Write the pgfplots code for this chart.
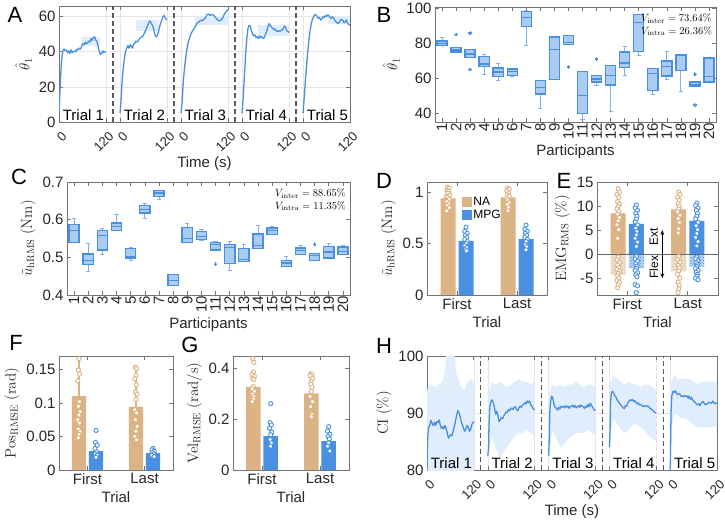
\RequirePackage{fix-cm}
\documentclass[border=0pt]{standalone}
\usepackage[no-math]{fontspec}
\setmainfont{Liberation Sans}
\usepackage{pgfplots}
\pgfplotsset{compat=1.18}
\usepgfplotslibrary{statistics}
\usetikzlibrary{patterns,arrows.meta}

\definecolor{mblue}{RGB}{74,144,226}
\definecolor{mtan}{RGB}{219,179,133}
\definecolor{bfill}{RGB}{170,204,242}
\definecolor{band}{RGB}{224,237,252}

\tikzset{tlabel/.style={anchor=south west, inner sep=0.5pt, font=\fontsize{15}{18}\selectfont, text=black}}

\pgfplotsset{
  panel/.style={
    scale only axis, anchor=south west,
    font=\fontsize{15}{18}\selectfont,
    axis line style={black!55, line width=0.6pt},
    tick style={black!55, line width=0.6pt},
    tick align=inside, major tick length=4pt,
    ticklabel style={text=black!85},
    label style={text=black!85},
  },
  trialaxis/.style={
    xmin=0, xmax=744,
    xtick={0,120,156,276,312,432,468,588,624,744},
    xticklabels={0,120,0,120,0,120,0,120,0,120},
    xticklabel style={xshift=5.5pt, yshift=-12pt, rotate=45, anchor=east, inner sep=0pt, font=\fontsize{13}{15}\selectfont},
    xmajorgrids, ymajorgrids, grid style={black!10, line width=0.5pt},
    xlabel={Time (s)},
  },
  curve/.style={mblue, line width=1.3pt, line join=round},
  sep/.style={black!65, dash pattern=on 5pt off 3pt, line width=1.2pt},
  dots/.style={only marks, mark=*, mark size=2.1pt, mark options={draw=#1, fill=white, line width=0.9pt}, forget plot},
  barst/.style={ybar, bar width=0.25, bar shift=0pt, fill=#1, draw=none, forget plot},
  negbar/.style={ybar, bar width=0.25, bar shift=0pt, draw=none, fill=#1!40, postaction={pattern=crosshatch dots, pattern color=#1}, forget plot},
  bx/.style={solid, draw=mblue, line width=1pt, mark=*, mark size=1.3pt,
    mark options={fill=mblue, draw=mblue, line width=0pt},
    boxplot/draw direction=y,
    boxplot/box extend=0.72, boxplot/whisker extend=0.3,
    boxplot/every box/.style={draw=mblue, fill=bfill, line width=1.4pt},
    boxplot/every whisker/.style={draw=mblue!70, line width=0.9pt},
    boxplot/every median/.style={draw=mblue, line width=1.2pt}},
}

\begin{document}
\begin{tikzpicture}
\path[use as bounding box] (0,0) rectangle (725pt,520pt);

% ---------------- A: parameter estimate over five trials
\begin{axis}[panel, trialaxis, at={(59pt,398pt)}, width=291pt, height=116pt,
  ymin=0, ymax=66, ytick={0,20,40,60}, yticklabels={0,20,40,60},
  ylabel={$\hat{\theta}_1$}]
\addplot[fill=band, draw=none] coordinates {(55,43.5) (105,43.5) (105,48.5) (55,48.5)} --cycle;
\addplot[fill=band, draw=none] coordinates {(196,52) (256,52) (256,58) (196,58)} --cycle;
\addplot[fill=band, draw=none] coordinates {(347,55) (432,55) (432,60.5) (347,60.5)} --cycle;
\addplot[fill=band, draw=none] coordinates {(508,49) (588,49) (588,55) (508,55)} --cycle;
\addplot[fill=band, draw=none] coordinates {(689,55.5) (744,55.5) (744,60.5) (689,60.5)} --cycle;
\addplot[curve] table[row sep=\\, x expr=\thisrow{t}+0, y=v] {t v\\ 0 5\\ 2 15\\ 4 25\\ 6 33\\ 8 38\\ 10 40.5\\ 13 41.5\\ 16 40.5\\ 19 41\\ 22 39.5\\ 25 40.5\\ 28 39\\ 31 41\\ 34 39.5\\ 37 40\\ 40 40.5\\ 43 40\\ 46 41.5\\ 49 41\\ 52 42\\ 55 41.5\\ 58 43\\ 61 44.5\\ 64 44\\ 67 45.5\\ 70 44.5\\ 73 45\\ 76 46\\ 79 45.5\\ 82 47.5\\ 85 46.5\\ 88 48\\ 91 48.5\\ 94 46.5\\ 97 46\\ 100 43\\ 103 40\\ 106 38.5\\ 109 39\\ 112 40.5\\ 115 39.5\\ 118 40\\ 120 40\\};
\addplot[curve] table[row sep=\\, x expr=\thisrow{t}+156, y=v] {t v\\ 0 5\\ 2 10\\ 5 22\\ 8 30\\ 11 36\\ 14 40\\ 17 42\\ 20 43.5\\ 23 42\\ 26 44\\ 29 43\\ 32 42\\ 35 44.5\\ 38 45\\ 41 46\\ 44 45.5\\ 47 46.5\\ 50 47.5\\ 53 48\\ 56 48.5\\ 59 49\\ 62 50.5\\ 65 52\\ 68 53.5\\ 71 55\\ 74 57\\ 77 57.5\\ 80 56\\ 83 55\\ 86 53\\ 89 50\\ 92 48.5\\ 95 49\\ 98 51\\ 101 54\\ 104 56.5\\ 107 58\\ 110 60\\ 113 60.5\\ 116 59\\ 120 58\\};
\addplot[curve] table[row sep=\\, x expr=\thisrow{t}+312, y=v] {t v\\ 0 5\\ 3 12\\ 6 24\\ 10 33\\ 14 40\\ 18 45\\ 22 48\\ 26 50.5\\ 30 52\\ 34 53.5\\ 38 55\\ 42 56.5\\ 46 57\\ 50 58\\ 54 57.5\\ 58 58.5\\ 62 59\\ 66 61\\ 70 61.5\\ 74 60.5\\ 78 61\\ 82 61\\ 86 60\\ 90 59\\ 94 58\\ 98 57.5\\ 102 58\\ 106 59\\ 110 61\\ 114 62.5\\ 118 63.5\\ 120 64\\};
\addplot[curve] table[row sep=\\, x expr=\thisrow{t}+468, y=v] {t v\\ 0 5\\ 3 14\\ 6 26\\ 9 38\\ 12 47\\ 15 53\\ 18 55\\ 21 54.5\\ 24 52\\ 27 50\\ 30 49\\ 33 49.5\\ 36 48\\ 39 48.5\\ 42 47.5\\ 45 49\\ 48 48\\ 51 48.5\\ 54 47.5\\ 57 48\\ 60 50\\ 63 51.5\\ 66 54\\ 69 56\\ 72 55\\ 75 54\\ 78 53.5\\ 81 52.5\\ 84 53\\ 87 52\\ 90 51.5\\ 93 52\\ 96 51.5\\ 99 52\\ 102 52.5\\ 105 53\\ 108 54.5\\ 111 54\\ 114 52\\ 117 51.5\\ 120 51\\};
\addplot[curve] table[row sep=\\, x expr=\thisrow{t}+624, y=v] {t v\\ 0 5\\ 3 14\\ 6 24\\ 9 32\\ 12 40\\ 15 47\\ 18 52\\ 21 56\\ 24 58.5\\ 27 60\\ 30 61\\ 33 61\\ 36 60\\ 39 59\\ 42 59.5\\ 45 58\\ 48 58.5\\ 51 60\\ 54 59.5\\ 57 60.5\\ 60 60\\ 63 61\\ 66 60.5\\ 69 59.5\\ 72 59\\ 75 60\\ 78 59\\ 81 58\\ 84 57\\ 87 56.5\\ 90 56\\ 93 57\\ 96 58\\ 99 58.5\\ 102 57.5\\ 105 56.5\\ 108 57\\ 111 58\\ 114 56\\ 117 55.5\\ 120 55\\};
\addplot[sep] coordinates {(138,0) (138,66)};
\addplot[sep] coordinates {(294,0) (294,66)};
\addplot[sep] coordinates {(450,0) (450,66)};
\addplot[sep] coordinates {(606,0) (606,66)};
\node[tlabel] at (axis cs:8,0.3) {Trial 1};
\node[tlabel] at (axis cs:164,0.3) {Trial 2};
\node[tlabel] at (axis cs:320,0.3) {Trial 3};
\node[tlabel] at (axis cs:476,0.3) {Trial 4};
\node[tlabel] at (axis cs:632,0.3) {Trial 5};
\end{axis}

% ---------------- B: per-participant estimate
\begin{axis}[panel, at={(435pt,398pt)}, width=281pt, height=115pt,
  xmin=0.5, xmax=20.5, ymin=35, ymax=100.6,
  xtick={1,...,20}, xticklabels={1,2,3,4,5,6,7,8,9,10,11,12,13,14,15,16,17,18,19,20},
  xticklabel style={rotate=90, anchor=east, inner sep=1pt},
  ytick={40,60,80,100}, yticklabels={40,60,80,100},
  xlabel={Participants}, ylabel={$\hat{\theta}_1$}]
\addplot[bx, boxplot prepared={draw position=1, lower whisker=78.4, lower quartile=78.6, median=79.9, upper quartile=81.3, upper whisker=83.3}] coordinates {};
\addplot[bx, boxplot prepared={draw position=2, lower whisker=75, lower quartile=75, median=76.1, upper quartile=77.6, upper whisker=77.6}] coordinates {(0,84.9)};
\addplot[bx, boxplot prepared={draw position=3, lower whisker=71.9, lower quartile=71.9, median=73.8, upper quartile=76.3, upper whisker=76.3}] coordinates {(0,85.8) (0,65)};
\addplot[bx, boxplot prepared={draw position=4, lower whisker=62, lower quartile=66.7, median=68.1, upper quartile=72.3, upper whisker=73.8}] coordinates {};
\addplot[bx, boxplot prepared={draw position=5, lower whisker=58.5, lower quartile=61, median=63.5, upper quartile=65.8, upper whisker=68.6}] coordinates {};
\addplot[bx, boxplot prepared={draw position=6, lower whisker=61, lower quartile=61.5, median=63.8, upper quartile=65.2, upper whisker=65.5}] coordinates {};
\addplot[bx, boxplot prepared={draw position=7, lower whisker=78.8, lower quartile=89.6, median=94.4, upper quartile=98.2, upper whisker=98.5}] coordinates {};
\addplot[bx, boxplot prepared={draw position=8, lower whisker=42.5, lower quartile=51, median=54.9, upper quartile=58.5, upper whisker=58.8}] coordinates {};
\addplot[bx, boxplot prepared={draw position=9, lower whisker=59.1, lower quartile=59.1, median=76.3, upper quartile=83.5, upper whisker=83.5}] coordinates {};
\addplot[bx, boxplot prepared={draw position=10, lower whisker=79.1, lower quartile=79.1, median=80.3, upper quartile=84.3, upper whisker=84.3}] coordinates {(0,66.4)};
\addplot[bx, boxplot prepared={draw position=11, lower whisker=36.7, lower quartile=40, median=50.1, upper quartile=63.8, upper whisker=63.8}] coordinates {};
\addplot[bx, boxplot prepared={draw position=12, lower whisker=55.6, lower quartile=57.8, median=59.5, upper quartile=61.4, upper whisker=61.4}] coordinates {(0,71)};
\addplot[bx, boxplot prepared={draw position=13, lower whisker=41.3, lower quartile=56, median=61.4, upper quartile=67.1, upper whisker=67.1}] coordinates {};
\addplot[bx, boxplot prepared={draw position=14, lower whisker=61.4, lower quartile=66.1, median=68.7, upper quartile=75, upper whisker=78.2}] coordinates {};
\addplot[bx, boxplot prepared={draw position=15, lower whisker=73, lower quartile=75.3, median=91.6, upper quartile=96.2, upper whisker=96.2}] coordinates {};
\addplot[bx, boxplot prepared={draw position=16, lower whisker=50.5, lower quartile=52.8, median=62.5, upper quartile=65.4, upper whisker=65.4}] coordinates {};
\addplot[bx, boxplot prepared={draw position=17, lower whisker=59.1, lower quartile=61.2, median=66.7, upper quartile=69.8, upper whisker=75.3}] coordinates {};
\addplot[bx, boxplot prepared={draw position=18, lower whisker=52.4, lower quartile=64.4, median=72.9, upper quartile=73.4, upper whisker=73.7}] coordinates {};
\addplot[bx, boxplot prepared={draw position=19, lower whisker=55.5, lower quartile=55.5, median=56.5, upper quartile=57.8, upper whisker=57.8}] coordinates {(0,62.3) (0,44.8)};
\addplot[bx, boxplot prepared={draw position=20, lower whisker=57.8, lower quartile=57.8, median=61, upper quartile=71.5, upper whisker=71.5}] coordinates {};
\node[anchor=north east, align=left, inner sep=1pt, font=\fontsize{10.5}{12.5}\selectfont] at (rel axis cs:0.99,0.95) {$V_{\mathrm{inter}} = 73.64\%$\\$V_{\mathrm{intra}} = 26.36\%$};
\end{axis}

% ---------------- C: per-participant human torque
\begin{axis}[panel, at={(67pt,225pt)}, width=283pt, height=113pt,
  xmin=0.5, xmax=20.5, ymin=0.4, ymax=0.7,
  xtick={1,...,20}, xticklabels={1,2,3,4,5,6,7,8,9,10,11,12,13,14,15,16,17,18,19,20},
  xticklabel style={rotate=90, anchor=east, inner sep=1pt},
  ytick={0.4,0.5,0.6,0.7}, yticklabels={0.4,0.5,0.6,0.7},
  xlabel={Participants}, ylabel={$\tilde{u}_{\mathrm{hRMS}}\ (\mathrm{Nm})$}]
\addplot[bx, boxplot prepared={draw position=1, lower whisker=.540, lower quartile=.540, median=.571, upper quartile=.587, upper whisker=.604}] coordinates {};
\addplot[bx, boxplot prepared={draw position=2, lower whisker=.463, lower quartile=.481, median=.491, upper quartile=.509, upper whisker=.536}] coordinates {};
\addplot[bx, boxplot prepared={draw position=3, lower whisker=.507, lower quartile=.520, median=.558, upper quartile=.571, upper whisker=.577}] coordinates {};
\addplot[bx, boxplot prepared={draw position=4, lower whisker=.572, lower quartile=.572, median=.582, upper quartile=.591, upper whisker=.614}] coordinates {};
\addplot[bx, boxplot prepared={draw position=5, lower whisker=.492, lower quartile=.498, median=.503, upper quartile=.523, upper whisker=.527}] coordinates {};
\addplot[bx, boxplot prepared={draw position=6, lower whisker=.602, lower quartile=.618, median=.628, upper quartile=.637, upper whisker=.644}] coordinates {};
\addplot[bx, boxplot prepared={draw position=7, lower whisker=.653, lower quartile=.662, median=.671, upper quartile=.678, upper whisker=.678}] coordinates {};
\addplot[bx, boxplot prepared={draw position=8, lower whisker=.425, lower quartile=.425, median=.438, upper quartile=.454, upper whisker=.454}] coordinates {};
\addplot[bx, boxplot prepared={draw position=9, lower whisker=.540, lower quartile=.540, median=.549, upper quartile=.580, upper whisker=.589}] coordinates {};
\addplot[bx, boxplot prepared={draw position=10, lower whisker=.545, lower quartile=.547, median=.555, upper quartile=.569, upper whisker=.573}] coordinates {};
\addplot[bx, boxplot prepared={draw position=11, lower whisker=.520, lower quartile=.520, median=.534, upper quartile=.540, upper whisker=.541}] coordinates {(0,.482)};
\addplot[bx, boxplot prepared={draw position=12, lower whisker=.466, lower quartile=.483, median=.527, upper quartile=.534, upper whisker=.543}] coordinates {};
\addplot[bx, boxplot prepared={draw position=13, lower whisker=.489, lower quartile=.489, median=.494, upper quartile=.523, upper whisker=.535}] coordinates {};
\addplot[bx, boxplot prepared={draw position=14, lower whisker=.523, lower quartile=.523, median=.532, upper quartile=.562, upper whisker=.585}] coordinates {};
\addplot[bx, boxplot prepared={draw position=15, lower whisker=.560, lower quartile=.560, median=.572, upper quartile=.578, upper whisker=.583}] coordinates {};
\addplot[bx, boxplot prepared={draw position=16, lower whisker=.476, lower quartile=.476, median=.485, upper quartile=.491, upper whisker=.503}] coordinates {};
\addplot[bx, boxplot prepared={draw position=17, lower whisker=.507, lower quartile=.507, median=.518, upper quartile=.525, upper whisker=.531}] coordinates {};
\addplot[bx, boxplot prepared={draw position=18, lower whisker=.491, lower quartile=.491, median=.505, upper quartile=.510, upper whisker=.510}] coordinates {(0,.535)};
\addplot[bx, boxplot prepared={draw position=19, lower whisker=.498, lower quartile=.498, median=.514, upper quartile=.528, upper whisker=.538}] coordinates {};
\addplot[bx, boxplot prepared={draw position=20, lower whisker=.507, lower quartile=.507, median=.516, upper quartile=.527, upper whisker=.531}] coordinates {};
\node[anchor=north east, align=left, inner sep=1pt, font=\fontsize{10.5}{12.5}\selectfont] at (rel axis cs:0.99,0.95) {$V_{\mathrm{inter}} = 88.65\%$\\$V_{\mathrm{intra}} = 11.35\%$};
\end{axis}

% ---------------- D: human torque, NA vs MPG
\begin{axis}[panel, at={(427pt,225pt)}, width=120pt, height=113pt,
  xmin=0.5, xmax=2.5, ymin=0, ymax=1.1,
  xtick={1,2}, xticklabels={First,Last}, ytick={0,0.5,1}, yticklabels={0,0.5,1},
  xlabel={Trial}, ylabel={$\tilde{u}_{\mathrm{hRMS}}\ (\mathrm{Nm})$},
  legend style={at={(0.265,0.905)}, anchor=north west, draw=none, fill=none,
    font=\fontsize{12}{14}\selectfont, row sep=-1pt}, legend cell align=left]
\addlegendimage{legend image code/.code={\fill[mtan] (0pt,-4.5pt) rectangle (9pt,4.5pt);}}
\addlegendimage{legend image code/.code={\fill[mblue] (0pt,-4.5pt) rectangle (9pt,4.5pt);}}
\addplot[barst=mtan] coordinates {(0.85,0.94) (1.85,0.951)};
\addplot[barst=mblue] coordinates {(1.15,0.526) (2.15,0.545)};
\addplot[dots=mtan] coordinates {(0.84,1.05)(0.87,1.04)(0.83,1.02)(0.86,1.01)(0.85,0.99)(0.88,0.97)(0.82,0.96)(0.85,0.95)(0.87,0.93)(0.83,0.91)(0.86,0.89)(0.84,0.87)(0.87,0.85)(0.83,0.82)};
\addplot[dots=mblue] coordinates {(1.15,0.66)(1.13,0.62)(1.17,0.6)(1.14,0.58)(1.16,0.56)(1.13,0.54)(1.17,0.52)(1.15,0.5)(1.13,0.48)(1.16,0.46)(1.14,0.44)(1.16,0.43)};
\addplot[dots=mtan] coordinates {(1.84,1.04)(1.87,1.03)(1.83,1.01)(1.86,0.99)(1.84,0.97)(1.87,0.96)(1.83,0.94)(1.85,0.92)(1.87,0.9)(1.84,0.88)(1.86,0.85)(1.85,0.82)};
\addplot[dots=mblue] coordinates {(2.15,0.68)(2.13,0.64)(2.17,0.62)(2.14,0.6)(2.16,0.58)(2.13,0.56)(2.17,0.54)(2.15,0.52)(2.14,0.49)(2.16,0.47)(2.15,0.44)};
\legend{NA,MPG}
\end{axis}

% ---------------- E: muscle activity, extension above and flexion below zero
\begin{axis}[panel, at={(597pt,225pt)}, width=121pt, height=113pt,
  xmin=0.5, xmax=2.5, ymin=-8.5, ymax=15,
  xtick={1,2}, xticklabels={First,Last}, ytick={-5,0,5,10,15}, yticklabels={-5,0,5,10,15},
  xlabel={Trial}, ylabel={$\mathrm{EMG}_{\mathrm{RMS}}\ (\%)$}]
\addplot[barst=mtan] coordinates {(0.85,8.5) (1.85,9.3)};
\addplot[barst=mblue] coordinates {(1.15,6.3) (2.15,6.9)};
\addplot[negbar=mtan] coordinates {(0.85,-4.3) (1.85,-3.6)};
\addplot[negbar=mblue] coordinates {(1.15,-2.9) (2.15,-2.6)};
\addplot[black!60, line width=0.8pt, forget plot] coordinates {(0.5,0) (2.5,0)};
\addplot[dots=mtan] coordinates {(0.85,13.6)(0.87,12.9)(0.83,12.4)(0.86,11.8)(0.84,10.9)(0.87,10.4)(0.85,9.9)(0.83,9.4)(0.86,8.9)(0.84,8.3)(0.87,7.6)(0.85,6.9)(0.83,6.1)(0.86,5.1)(0.84,3.3)};
\addplot[dots=mtan] coordinates {(0.85,-0.6)(0.83,-1.2)(0.87,-1.8)(0.84,-2.3)(0.86,-2.8)(0.83,-3.2)(0.87,-3.6)(0.85,-4.0)(0.84,-4.5)(0.86,-5.0)(0.83,-5.5)(0.87,-5.9)(0.85,-6.4)(0.84,-7.0)};
\addplot[dots=mblue] coordinates {(1.15,10.2)(1.13,9.6)(1.17,9.1)(1.14,8.5)(1.16,7.9)(1.15,7.3)(1.13,6.7)(1.17,6.1)(1.14,5.4)(1.16,4.7)(1.15,4.0)(1.13,3.3)(1.17,2.5)(1.15,1.6)};
\addplot[dots=mblue] coordinates {(1.15,-0.5)(1.13,-1.0)(1.17,-1.5)(1.14,-2.0)(1.16,-2.5)(1.15,-3.0)(1.13,-3.4)(1.17,-3.9)(1.14,-4.3)(1.16,-4.7)(1.13,-6.3)(1.17,-6.6)(1.15,-8.0)};
\addplot[dots=mtan] coordinates {(1.85,12.9)(1.87,12.4)(1.83,11.8)(1.86,11.2)(1.84,10.5)(1.86,9.9)(1.85,9.4)(1.83,8.8)(1.87,8.1)(1.84,7.4)(1.86,6.6)(1.85,5.3)(1.84,4.4)};
\addplot[dots=mtan] coordinates {(1.85,-0.5)(1.83,-1.1)(1.87,-1.7)(1.84,-2.3)(1.86,-2.9)(1.85,-3.5)(1.83,-4.2)(1.87,-5.0)(1.84,-5.8)(1.86,-6.5)(1.85,-7.2)(1.84,-8.0)};
\addplot[dots=mblue] coordinates {(2.15,10.6)(2.13,10.1)(2.17,9.6)(2.14,9.1)(2.16,8.5)(2.15,7.9)(2.13,7.3)(2.17,6.6)(2.14,5.9)(2.16,5.1)(2.15,4.3)(2.13,3.5)(2.17,2.6)(2.15,1.7)};
\addplot[dots=mblue] coordinates {(2.15,-0.6)(2.13,-1.0)(2.17,-1.4)(2.14,-1.8)(2.16,-2.2)(2.15,-2.6)(2.13,-3.0)(2.17,-3.4)(2.14,-3.8)(2.16,-4.2)(2.15,-4.6)(2.13,-5.0)(2.17,-5.3)};
\draw[{Stealth[length=5pt]}-{Stealth[length=5pt]}, line width=0.9pt] (axis cs:1.58,5) -- (axis cs:1.58,-5);
\node[rotate=90, font=\fontsize{12}{14}\selectfont, inner sep=0pt] at (axis cs:1.44,3.6) {Ext};
\node[rotate=90, font=\fontsize{12}{14}\selectfont, inner sep=0pt] at (axis cs:1.44,-2.7) {Flex};
\end{axis}

% ---------------- F: position error
\begin{axis}[panel, at={(59pt,50pt)}, width=114pt, height=114pt,
  xmin=0.5, xmax=2.5, ymin=0, ymax=0.17,
  xtick={1,2}, xticklabels={First,Last}, ytick={0,0.05,0.1,0.15}, yticklabels={0,0.05,0.1,0.15},
  xlabel={Trial}, ylabel={$\mathrm{Pos}_{\mathrm{RMSE}}\ (\mathrm{rad})$}]
\addplot[barst=mtan] coordinates {(0.85,0.110) (1.85,0.094)};
\addplot[barst=mblue] coordinates {(1.15,0.028) (2.15,0.025)};
\addplot[mtan, line width=1.3pt, forget plot] coordinates {(0.85,0.110) (0.85,0.17)};
\addplot[mtan, line width=1.3pt, forget plot] coordinates {(1.85,0.094) (1.85,0.152)};
\addplot[mblue, line width=1.3pt, forget plot] coordinates {(1.15,0.028) (1.15,0.040)};
\addplot[mblue, line width=1.3pt, forget plot] coordinates {(2.15,0.025) (2.15,0.031)};
\addplot[dots=mtan] coordinates {(0.85,0.166)(0.84,0.149)(0.86,0.143)(0.83,0.133)(0.86,0.102)(0.84,0.095)(0.87,0.087)(0.85,0.082)(0.83,0.075)(0.86,0.070)(0.84,0.061)(0.87,0.057)(0.85,0.053)(0.84,0.048)};
\addplot[dots=mblue] coordinates {(1.15,0.059)(1.14,0.041)(1.17,0.037)(1.13,0.032)(1.16,0.027)(1.14,0.024)(1.17,0.022)(1.15,0.019)};
\addplot[dots=mtan] coordinates {(1.84,0.153)(1.86,0.151)(1.85,0.141)(1.83,0.136)(1.86,0.127)(1.84,0.116)(1.87,0.113)(1.85,0.105)(1.83,0.090)(1.86,0.085)(1.84,0.075)(1.87,0.065)(1.85,0.058)(1.83,0.050)(1.86,0.045)};
\addplot[dots=mblue] coordinates {(2.15,0.032)(2.13,0.030)(2.17,0.028)(2.14,0.026)(2.16,0.024)(2.13,0.022)(2.17,0.020)};
\end{axis}

% ---------------- G: velocity error
\begin{axis}[panel, at={(233pt,50pt)}, width=116pt, height=114pt,
  xmin=0.5, xmax=2.5, ymin=0, ymax=0.45,
  xtick={1,2}, xticklabels={First,Last}, ytick={0,0.2,0.4}, yticklabels={0,0.2,0.4},
  xlabel={Trial}, ylabel={$\mathrm{Vel}_{\mathrm{RMSE}}\ (\mathrm{rad/s})$}]
\addplot[barst=mtan] coordinates {(0.85,0.328) (1.85,0.302)};
\addplot[barst=mblue] coordinates {(1.15,0.134) (2.15,0.114)};
\addplot[dots=mtan] coordinates {(0.84,0.44)(0.86,0.425)(0.85,0.387)(0.83,0.377)(0.87,0.37)(0.84,0.361)(0.86,0.357)(0.85,0.33)(0.83,0.32)(0.87,0.31)(0.84,0.30)(0.86,0.29)(0.85,0.28)(0.83,0.27)};
\addplot[dots=mblue] coordinates {(1.15,0.262)(1.14,0.187)(1.16,0.178)(1.13,0.165)(1.17,0.149)(1.15,0.139)(1.14,0.12)(1.16,0.107)(1.15,0.094)};
\addplot[dots=mtan] coordinates {(1.84,0.38)(1.86,0.377)(1.83,0.372)(1.87,0.362)(1.85,0.349)(1.84,0.339)(1.86,0.326)(1.85,0.31)(1.83,0.29)(1.87,0.27)(1.84,0.25)(1.86,0.22)(1.85,0.21)};
\addplot[dots=mblue] coordinates {(2.15,0.171)(2.13,0.154)(2.17,0.141)(2.14,0.132)(2.16,0.123)(2.15,0.107)(2.13,0.094)(2.17,0.075)};
\end{axis}

% ---------------- H: confidence index over five trials
\begin{axis}[panel, trialaxis, at={(427pt,50pt)}, width=290pt, height=114pt,
  ymin=80, ymax=100, ytick={80,90,100}, yticklabels={80,90,100},
  ylabel={$\mathrm{CI}\ (\%)$}]
\addplot[fill=band, draw=none] table[row sep=\\, x expr=\thisrow{t}+0, y=v] {t v\\ 0 94\\ 10 95\\ 20 94.5\\ 30 95\\ 40 95.5\\ 45 97\\ 50 100.5\\ 70 100.5\\ 75 97\\ 85 95\\ 95 94\\ 105 95.5\\ 115 96\\ 120 95\\ 120 79\\ 0 79\\} --cycle;
\addplot[fill=band, draw=none] table[row sep=\\, x expr=\thisrow{t}+156, y=v] {t v\\ 0 93\\ 10 95.5\\ 20 95\\ 30 95.5\\ 40 95\\ 50 94.5\\ 60 95\\ 70 95.5\\ 80 96\\ 90 95.5\\ 100 95.5\\ 110 95\\ 120 95.5\\ 120 86\\ 110 86.5\\ 100 87\\ 90 86.5\\ 80 86.5\\ 70 86\\ 60 85\\ 50 84\\ 40 83\\ 30 82\\ 20 84\\ 10 86\\ 5 84\\ 0 80\\} --cycle;
\addplot[fill=band, draw=none] table[row sep=\\, x expr=\thisrow{t}+312, y=v] {t v\\ 0 93\\ 10 95\\ 20 94.5\\ 30 95\\ 40 94.5\\ 50 95\\ 60 95\\ 70 95.5\\ 80 95\\ 90 94.5\\ 100 95\\ 110 95\\ 120 94.5\\ 120 86\\ 110 86.5\\ 100 87\\ 90 86.5\\ 80 86.5\\ 70 86.5\\ 60 86\\ 50 85.5\\ 40 84.5\\ 30 84\\ 20 85.5\\ 10 87\\ 5 85\\ 0 80\\} --cycle;
\addplot[fill=band, draw=none] table[row sep=\\, x expr=\thisrow{t}+468, y=v] {t v\\ 0 95\\ 10 96.5\\ 20 96\\ 30 95.5\\ 40 95\\ 50 95.5\\ 60 95\\ 70 95\\ 80 94.5\\ 90 95\\ 100 95\\ 110 94.5\\ 120 94\\ 120 85\\ 110 85.5\\ 100 86\\ 90 87\\ 80 87.5\\ 70 88\\ 60 88\\ 50 87\\ 40 86.5\\ 30 87\\ 20 88\\ 10 89\\ 5 87\\ 0 80\\} --cycle;
\addplot[fill=band, draw=none] table[row sep=\\, x expr=\thisrow{t}+624, y=v] {t v\\ 0 95\\ 10 96.5\\ 20 96\\ 30 96\\ 40 96\\ 50 96\\ 60 95.5\\ 70 95\\ 80 95.5\\ 90 95.5\\ 100 95.5\\ 110 95.5\\ 120 95.5\\ 120 87.5\\ 100 87.5\\ 80 87.5\\ 70 87.5\\ 60 88\\ 50 88.5\\ 40 89\\ 30 89\\ 20 89.5\\ 10 90\\ 5 88\\ 0 80\\} --cycle;
\addplot[curve] table[row sep=\\, x expr=\thisrow{t}+0, y=v] {t v\\ 0 79\\ 1 84\\ 2 86\\ 4 87.5\\ 7 87.8\\ 10 88.7\\ 13 88.2\\ 16 87.8\\ 19 88.4\\ 22 87.8\\ 25 88.5\\ 28 88.3\\ 31 88.8\\ 34 87.9\\ 37 87.3\\ 40 87.6\\ 43 87.2\\ 46 87.8\\ 49 87.3\\ 52 86.5\\ 55 85.6\\ 58 85.9\\ 61 86.2\\ 64 86\\ 67 86.8\\ 70 87.6\\ 73 88.6\\ 76 89.6\\ 79 90.4\\ 82 90.1\\ 85 89.4\\ 88 88.4\\ 91 87.9\\ 94 87.2\\ 97 86.8\\ 100 87.3\\ 103 87.8\\ 106 87.4\\ 109 86.8\\ 112 87.1\\ 115 88\\ 118 88.3\\ 120 88.5\\};
\addplot[curve] table[row sep=\\, x expr=\thisrow{t}+156, y=v] {t v\\ 0 82.5\\ 2 84\\ 3 88\\ 5 91\\ 8 92\\ 11 92.3\\ 14 91.8\\ 17 91\\ 20 89.8\\ 23 90.3\\ 26 89.5\\ 29 88.5\\ 32 88.8\\ 35 89.2\\ 38 89\\ 41 89.5\\ 44 89.8\\ 47 90.2\\ 50 90.1\\ 53 90.6\\ 56 90.4\\ 59 90.8\\ 62 90.9\\ 65 90.6\\ 68 91\\ 71 91.1\\ 74 90.6\\ 77 90.4\\ 80 90.9\\ 83 91.2\\ 86 91\\ 89 91.4\\ 92 91.5\\ 95 91.8\\ 98 91.6\\ 101 92.1\\ 104 91.8\\ 107 92.1\\ 110 91.5\\ 113 91.2\\ 116 90.8\\ 120 90.5\\};
\addplot[curve] table[row sep=\\, x expr=\thisrow{t}+312, y=v] {t v\\ 0 82.5\\ 2 86\\ 3 90\\ 5 92\\ 8 93\\ 11 92.5\\ 14 91.5\\ 17 91\\ 20 90.8\\ 23 90.5\\ 26 91\\ 29 90.7\\ 32 91.2\\ 35 91\\ 38 91.2\\ 41 90.9\\ 44 91.3\\ 47 91\\ 50 91.2\\ 53 90.8\\ 56 91.2\\ 59 91.1\\ 62 91.4\\ 65 91\\ 68 91.3\\ 71 90.9\\ 74 91.1\\ 77 91.3\\ 80 91\\ 83 91.4\\ 86 91.2\\ 89 91.1\\ 92 90.8\\ 95 91.2\\ 98 91\\ 101 91.5\\ 104 91.1\\ 107 91.7\\ 110 91.3\\ 113 91\\ 116 90.6\\ 120 90.4\\};
\addplot[curve] table[row sep=\\, x expr=\thisrow{t}+468, y=v] {t v\\ 0 84\\ 2 88\\ 3 92\\ 5 93.6\\ 8 93.8\\ 11 93.5\\ 14 93\\ 17 92.8\\ 20 92.3\\ 23 92\\ 26 91.7\\ 29 91.4\\ 32 91.2\\ 35 90.9\\ 38 90.8\\ 41 91.3\\ 44 91.2\\ 47 91.7\\ 50 92.1\\ 53 92.3\\ 56 92.2\\ 59 92.4\\ 62 92\\ 65 92.2\\ 68 91.8\\ 71 91.6\\ 74 91.8\\ 77 91.4\\ 80 91.5\\ 83 91.3\\ 86 91.1\\ 89 91.3\\ 92 91.2\\ 95 91.3\\ 98 91.1\\ 101 91.2\\ 104 90.8\\ 107 90.7\\ 110 90.5\\ 113 90.4\\ 116 90.1\\ 120 90\\};
\addplot[curve] table[row sep=\\, x expr=\thisrow{t}+624, y=v] {t v\\ 0 79\\ 1 85\\ 2 90\\ 4 93\\ 7 93.8\\ 10 93.6\\ 13 93.9\\ 16 93.5\\ 19 93.2\\ 22 93.4\\ 25 93.3\\ 28 92.9\\ 31 93\\ 34 92.8\\ 37 93.1\\ 40 92.9\\ 43 93\\ 46 92.6\\ 49 93\\ 52 92.4\\ 55 92.7\\ 58 92.2\\ 61 92\\ 64 91.9\\ 67 91.6\\ 70 91.4\\ 73 91.6\\ 76 91.3\\ 79 91.7\\ 82 91.9\\ 85 92\\ 88 91.6\\ 91 91.4\\ 94 91.6\\ 97 91.7\\ 100 91.9\\ 103 91.8\\ 106 91.7\\ 109 92.1\\ 112 91.8\\ 115 91.6\\ 118 91.8\\ 120 91.7\\};
\addplot[sep] coordinates {(138,80) (138,100)};
\addplot[sep] coordinates {(294,80) (294,100)};
\addplot[sep] coordinates {(450,80) (450,100)};
\addplot[sep] coordinates {(606,80) (606,100)};
\node[tlabel] at (axis cs:8,80.1) {Trial 1};
\node[tlabel] at (axis cs:164,80.1) {Trial 2};
\node[tlabel] at (axis cs:320,80.1) {Trial 3};
\node[tlabel] at (axis cs:476,80.1) {Trial 4};
\node[tlabel] at (axis cs:632,80.1) {Trial 5};
\end{axis}

% panel letters
\begin{scope}[every node/.style={font=\fontsize{22}{22}\selectfont, inner sep=0pt}]
\node at (15pt,505.5pt) {A};
\node at (384pt,505pt) {B};
\node at (19pt,343.5pt) {C};
\node at (384pt,339.5pt) {D};
\node at (564pt,339.5pt) {E};
\node at (16pt,177.5pt) {F};
\node at (190pt,175.5pt) {G};
\node at (384pt,174.5pt) {H};
\end{scope}
\end{tikzpicture}
\end{document}
